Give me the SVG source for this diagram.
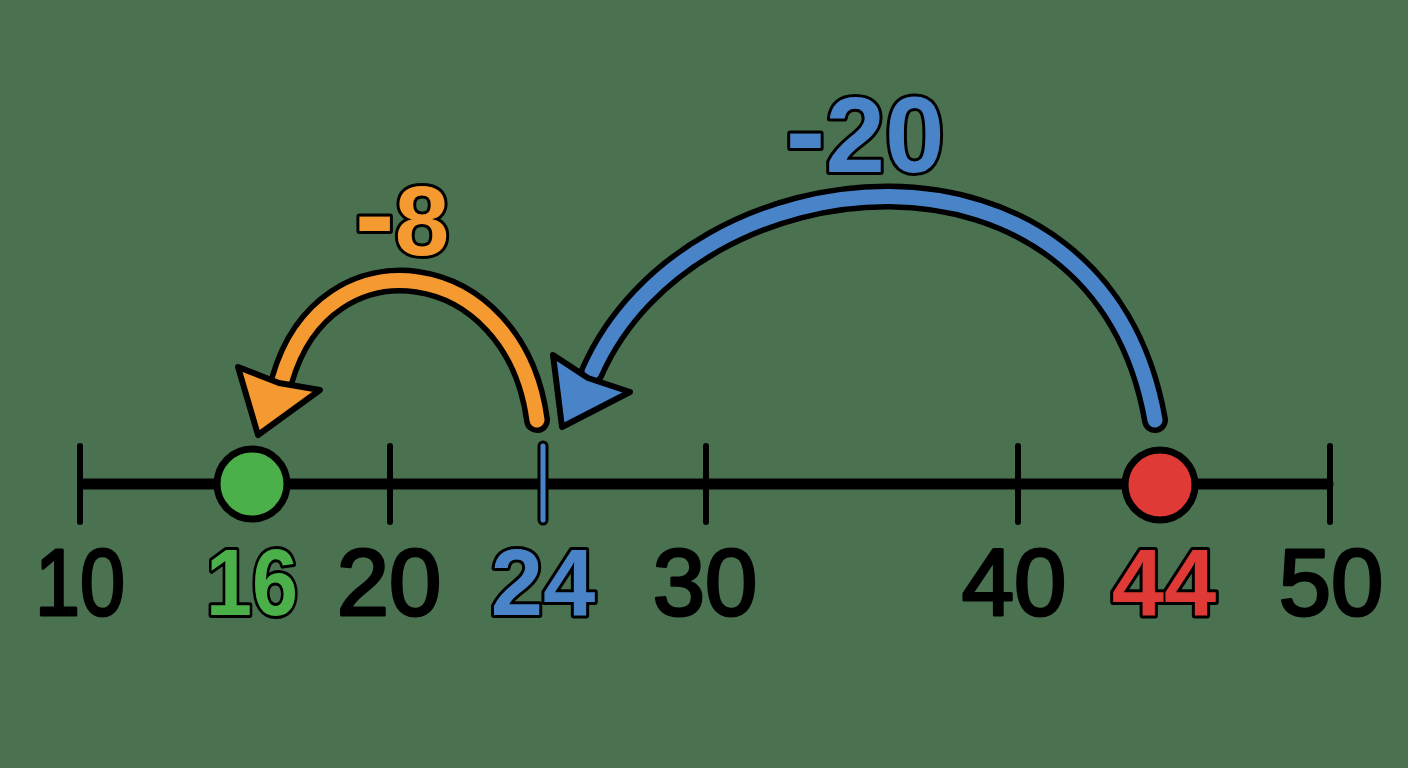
<svg xmlns="http://www.w3.org/2000/svg" width="1408" height="768" viewBox="0 0 1408 768">
<style>
.lbl{font-family:"Liberation Sans",Arial,sans-serif;font-size:94px;text-anchor:middle;stroke:#000;stroke-linejoin:round;paint-order:stroke}
.blk{fill:#000;stroke-width:3}
.col{stroke-width:6;font-weight:bold}
.dash{font-size:120px}
.tick{stroke:#000;stroke-width:6;stroke-linecap:round}
.out{fill:none;stroke:#000;stroke-width:26;stroke-linecap:round}
.head{stroke:#000;stroke-width:6;stroke-linejoin:round}
</style>
<rect width="1408" height="768" fill="#4b7250"/>
<g id="axis">
<line x1="84" y1="484" x2="1328" y2="484" stroke="#000" stroke-width="11" stroke-linecap="round"/>
<line class="tick" x1="80" y1="446" x2="80" y2="522"/>
<line class="tick" x1="390" y1="446" x2="390" y2="522"/>
<line class="tick" x1="706" y1="446" x2="706" y2="522"/>
<line class="tick" x1="1018" y1="446" x2="1018" y2="522"/>
<line class="tick" x1="1330" y1="446" x2="1330" y2="522"/>
</g>
<g id="connectors">
<path class="out" d="M1155,420 C1100,110 690,150 592,372"/>
<path d="M1155,420 C1100,110 690,150 592,372" fill="none" stroke="#4a84c8" stroke-width="15" stroke-linecap="round"/>
<polygon class="head" fill="#4a84c8" points="562,427 553,355 588,378 630,392"/>
<path class="out" d="M537,420 C515,255 325,230 282,380"/>
<path d="M537,420 C515,255 325,230 282,380" fill="none" stroke="#f49a30" stroke-width="15" stroke-linecap="round"/>
<polygon class="head" fill="#f49a30" points="258,435 238,367 279,383 320,390"/>
</g>
<g id="tick24">
<line x1="543" y1="446" x2="543" y2="520" stroke="#000" stroke-width="11" stroke-linecap="round"/>
<line x1="543" y1="446" x2="543" y2="520" stroke="#4a84c8" stroke-width="5" stroke-linecap="round"/>
</g>
<g id="node16"><circle cx="252" cy="484" r="35" fill="#4cb04a" stroke="#000" stroke-width="7"/></g>
<g id="node44"><circle cx="1160" cy="485" r="35" fill="#e03a36" stroke="#000" stroke-width="7"/></g>
<g id="labels">
<text class="lbl blk" x="80" y="615" textLength="90" lengthAdjust="spacingAndGlyphs">10</text>
<text class="lbl col" x="252" y="615" fill="#4cb04a" textLength="92" lengthAdjust="spacingAndGlyphs">16</text>
<text class="lbl blk" x="389" y="615">20</text>
<text class="lbl col" x="543" y="615" fill="#4a84c8">24</text>
<text class="lbl blk" x="705" y="615">30</text>
<text class="lbl blk" x="1014" y="615">40</text>
<text class="lbl col" x="1164" y="615" fill="#e03a36">44</text>
<text class="lbl blk" x="1331" y="615">50</text>
<text class="lbl col" x="402" y="255" fill="#f49a30" style="font-size:98px"><tspan class="dash">-</tspan>8</text>
<text class="lbl col" x="865" y="172" fill="#4a84c8" style="font-size:107px"><tspan class="dash">-</tspan>20</text>
</g>
</svg>
